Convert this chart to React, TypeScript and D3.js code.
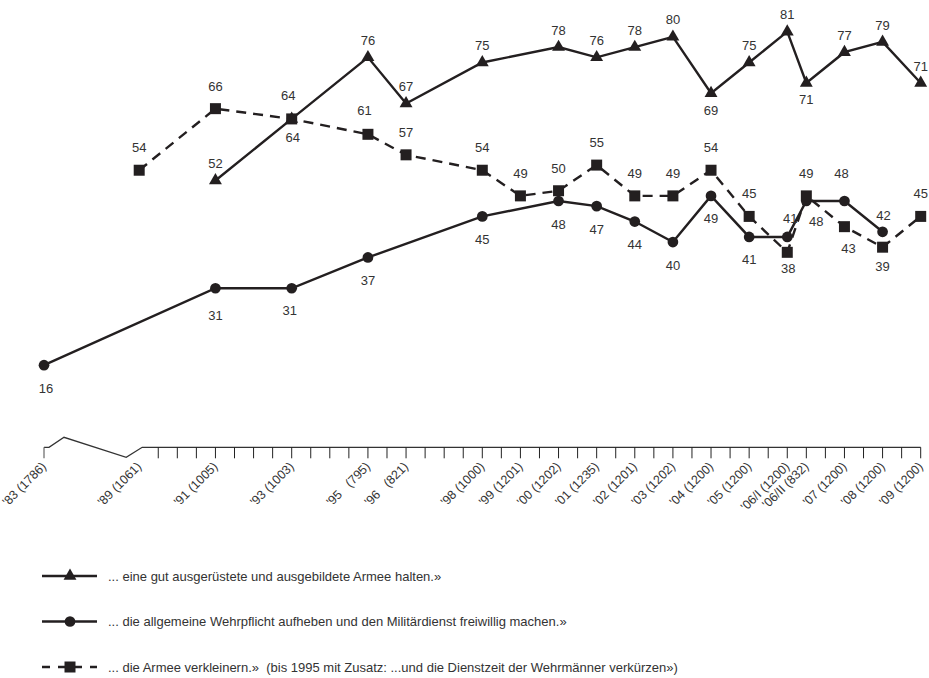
import React from "react";
import * as d3 from "d3";

// ---- Data ----
const categories = [
  "'83 (1786)", "'89 (1061)", "'91 (1005)", "'93 (1003)", "'95   (795)", "'96   (821)",
  "'98 (1000)", "'99 (1201)", "'00 (1202)", "'01 (1235)", "'02 (1201)", "'03 (1202)",
  "'04 (1200)", "'05 (1200)", "'06/I (1200)", "'06/II (832)", "'07 (1200)", "'08 (1200)", "'09 (1200)",
];
// survey time (decimal year) used for horizontal placement
const surveyTime = [
  1983, 1989, 1991, 1993, 1995, 1996, 1998, 1999, 2000, 2001, 2002, 2003,
  2004, 2005, 2006, 2006.5, 2007.5, 2008.5, 2009.5,
];
const armeeHalten: (number | null)[] = [
  null, null, 52, 64, 76, 67, 75, null, 78, 76, 78, 80, 69, 75, 81, 71, 77, 79, 71,
];
const wehrpflichtAufheben: (number | null)[] = [
  16, null, 31, 31, 37, null, 45, null, 48, 47, 44, 40, 49, 41, 41, 48, 48, 42, null,
];
const armeeVerkleinern: (number | null)[] = [
  null, 54, 66, 64, 61, 57, 54, 49, 50, 55, 49, 49, 54, 45, 38, 49, 43, 39, 45,
];
const legendTexts = [
  "... eine gut ausgerüstete und ausgebildete Armee halten.»",
  "... die allgemeine Wehrpflicht aufheben und den Militärdienst freiwillig machen.»",
  "... die Armee verkleinern.»  (bis 1995 mit Zusatz: ...und die Dienstzeit der Wehrmänner verkürzen»)",
];

// ---- Styling / layout ----
const INK = "#231f20";
const TXT = "#333333";
const FONT = "'Liberation Sans', Arial, Helvetica, sans-serif";

const x = d3.scaleLinear().domain([1983, 1989, 2009.5]).range([44, 139.2, 920.7]);
const y = d3.scaleLinear().domain([0, 100]).range([447.3, -65.8]);

type Series = {
  values: (number | null)[];
  symbol: d3.SymbolType;
  size: number;
  dash?: string;
  defDy: number;
  adjust: Record<number, [number, number]>;
};

const series: Series[] = [
  {
    values: armeeHalten,
    symbol: d3.symbolTriangle,
    size: 72,
    defDy: -17,
    adjust: { 3: [1, 19], 12: [0, 17], 15: [0, 16.5] },
  },
  {
    values: wehrpflichtAufheben,
    symbol: d3.symbolCircle,
    size: 90,
    defDy: 23,
    adjust: { 0: [2, 23], 2: [0, 27], 3: [-2, 22], 14: [3, -18.5], 15: [10, 20.5], 16: [-3, -27.5], 17: [1, -16.5] },
  },
  {
    values: armeeVerkleinern,
    symbol: d3.symbolSquare,
    size: 121,
    dash: "10,7",
    defDy: -22.5,
    adjust: { 3: [-3.5, -23], 4: [-3.5, -24], 14: [1, 16], 16: [4, 21.5], 17: [0, 19.5] },
  },
];

function App() {
  const y0 = y(0);
  const tickTimes = d3.range(1989.5, 2009.5001, 0.5);
  const xa = x(1983);
  const xb = x(1989);
  const breakPath = d3.line()([
    [xa, y0],
    [xa + 5, y0],
    [xa + 20, y0 - 10],
    [xb - 13, y0 + 10],
    [xb + 3, y0],
    [x(2009.5), y0],
  ]);

  return (
    <div>
      <style>{`body{margin:0;}`}</style>
      <svg width={929} height={678} style={{ display: "block", fontFamily: FONT }}>
        <rect width={929} height={678} fill="#ffffff" />
        {/* axis */}
        <path d={breakPath ?? ""} fill="none" stroke="#333" strokeWidth={1.3} />
        <line x1={xa} x2={xa} y1={y0} y2={y0 + 11} stroke="#666" strokeWidth={1.2} />
        {tickTimes.map((t) => (
          <line key={t} x1={x(t)} x2={x(t)} y1={y0} y2={y0 + 11} stroke="#222" strokeWidth={1} />
        ))}
        {categories.map((c, i) => (
          <text
            key={c}
            transform={`translate(${x(surveyTime[i]) + 3},${y0 + 20}) rotate(-45)`}
            textAnchor="end"
            fontSize={12.5}
            fill={TXT}
            style={{ whiteSpace: "pre" }}
          >
            {c}
          </text>
        ))}

        {/* series lines */}
        {series.map((s, si) => {
          const pts = s.values
            .map((v, i) => ({ v, i }))
            .filter((d) => d.v != null) as { v: number; i: number }[];
          const connected = d3
            .line<{ v: number; i: number }>()
            .x((d) => x(surveyTime[d.i]))
            .y((d) => y(d.v));
          return (
            <path
              key={"l" + si}
              d={connected(pts) ?? ""}
              fill="none"
              stroke={INK}
              strokeWidth={2.4}
              strokeDasharray={s.dash}
              strokeLinejoin="miter"
            />
          );
        })}

        {/* markers */}
        {series.map((s, si) =>
          s.values.map((v, i) =>
            v == null ? null : (
              <path
                key={`m${si}-${i}`}
                d={d3.symbol().type(s.symbol).size(s.size)() ?? ""}
                transform={`translate(${x(surveyTime[i])},${y(v)})`}
                fill={INK}
              />
            )
          )
        )}

        {/* value labels */}
        {series.map((s, si) =>
          s.values.map((v, i) => {
            if (v == null) return null;
            const [dx, dy] = s.adjust[i] ?? [0, s.defDy];
            return (
              <text
                key={`t${si}-${i}`}
                x={x(surveyTime[i]) + dx}
                y={y(v) + dy}
                dy="0.35em"
                textAnchor="middle"
                fontSize={13}
                fill={TXT}
              >
                {v}
              </text>
            );
          })
        )}

        {/* legend */}
        {series.map((s, si) => {
          const ly = 576 + si * 45.5;
          return (
            <g key={"lg" + si}>
              <line x1={42} x2={97} y1={ly} y2={ly} stroke={INK} strokeWidth={2.4} strokeDasharray={s.dash ? "8,8" : undefined} />
              <path d={d3.symbol().type(s.symbol).size(s.size)() ?? ""} transform={`translate(70,${ly})`} fill={INK} />
              <text x={108} y={ly} dy="0.35em" fontSize={13} fill={TXT} style={{ whiteSpace: "pre" }}>
                {legendTexts[si]}
              </text>
            </g>
          );
        })}
      </svg>
    </div>
  );
}

export default App;
